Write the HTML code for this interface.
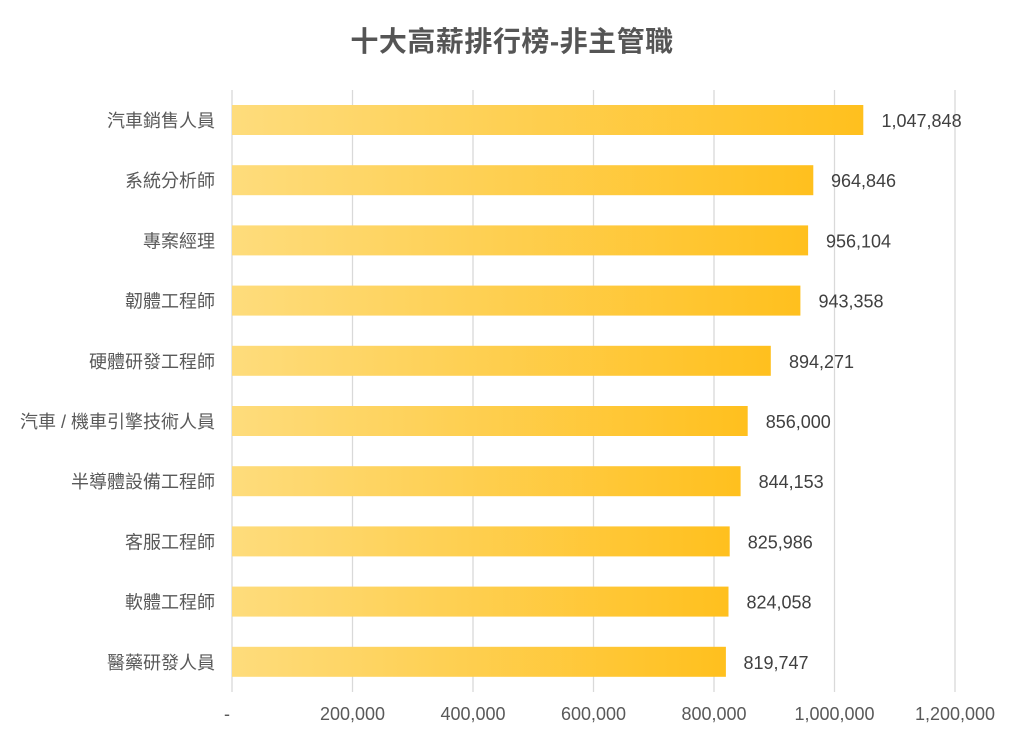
<!DOCTYPE html>
<html>
<head>
<meta charset="utf-8">
<style>
  html, body { margin:0; padding:0; background:#ffffff; }
  svg { display:block; }
  .cat { font-family: "Liberation Sans", "Noto Sans CJK TC", sans-serif; font-size:18px; fill:#595959; }
  .val { font-family: "Liberation Sans", "Noto Sans CJK TC", sans-serif; font-size:18px; fill:#404040; }
  .tick { font-family: "Liberation Sans", "Noto Sans CJK TC", sans-serif; font-size:18px; fill:#595959; }
  .title { font-family: "Liberation Sans", "Noto Sans CJK TC", sans-serif; font-size:28px; font-weight:bold; fill:#555555; letter-spacing:0.5px; }
</style>
</head>
<body>
<svg width="1024" height="737" viewBox="0 0 1024 737" xmlns="http://www.w3.org/2000/svg">
  <defs>
    <linearGradient id="g" x1="0" y1="0" x2="1" y2="0">
      <stop offset="0" stop-color="#fedc7c"/>
      <stop offset="1" stop-color="#ffc01e"/>
    </linearGradient>
  </defs>
  <rect width="1024" height="737" fill="#ffffff"/>

  <text class="title" x="512" y="51" text-anchor="middle">十大高薪排行榜-非主管職</text>

  <!-- gridlines -->
  <g stroke="#d9d9d9" stroke-width="1.3">
    <line x1="232" y1="90" x2="232" y2="692"/>
    <line x1="352.5" y1="90" x2="352.5" y2="692"/>
    <line x1="473" y1="90" x2="473" y2="692"/>
    <line x1="593.5" y1="90" x2="593.5" y2="692"/>
    <line x1="714" y1="90" x2="714" y2="692"/>
    <line x1="834.5" y1="90" x2="834.5" y2="692"/>
    <line x1="955" y1="90" x2="955" y2="692"/>
  </g>

  <!-- bars -->
  <g fill="url(#g)">
    <rect x="232" y="105" width="631.3" height="30"/>
    <rect x="232" y="165.2" width="581.3" height="30"/>
    <rect x="232" y="225.4" width="576.1" height="30"/>
    <rect x="232" y="285.6" width="568.4" height="30"/>
    <rect x="232" y="345.8" width="538.8" height="30"/>
    <rect x="232" y="406" width="515.7" height="30"/>
    <rect x="232" y="466.2" width="508.6" height="30"/>
    <rect x="232" y="526.4" width="497.7" height="30"/>
    <rect x="232" y="586.6" width="496.5" height="30"/>
    <rect x="232" y="646.8" width="493.9" height="30"/>
  </g>

  <!-- category labels -->
  <g class="cat" text-anchor="end">
    <text x="215" y="127">汽車銷售人員</text>
    <text x="215" y="187.2">系統分析師</text>
    <text x="215" y="247.4">專案經理</text>
    <text x="215" y="307.6">韌體工程師</text>
    <text x="215" y="367.8">硬體研發工程師</text>
    <text x="215" y="428">汽車 / 機車引擎技術人員</text>
    <text x="215" y="488.2">半導體設備工程師</text>
    <text x="215" y="548.4">客服工程師</text>
    <text x="215" y="608.6">軟體工程師</text>
    <text x="215" y="668.8">醫藥研發人員</text>
  </g>

  <!-- value labels -->
  <g class="val">
    <text x="881.5" y="127">1,047,848</text>
    <text x="831" y="187.2">964,846</text>
    <text x="826" y="247.4">956,104</text>
    <text x="818.5" y="307.6">943,358</text>
    <text x="789" y="367.8">894,271</text>
    <text x="765.7" y="428">856,000</text>
    <text x="758.6" y="488.2">844,153</text>
    <text x="747.7" y="548.4">825,986</text>
    <text x="746.5" y="608.6">824,058</text>
    <text x="743.5" y="668.8">819,747</text>
  </g>

  <!-- axis tick labels -->
  <g class="tick" text-anchor="middle">
    <text x="227" y="720">-</text>
    <text x="352.5" y="720">200,000</text>
    <text x="473" y="720">400,000</text>
    <text x="593.5" y="720">600,000</text>
    <text x="714" y="720">800,000</text>
    <text x="834.5" y="720">1,000,000</text>
    <text x="955" y="720">1,200,000</text>
  </g>
</svg>
</body>
</html>
